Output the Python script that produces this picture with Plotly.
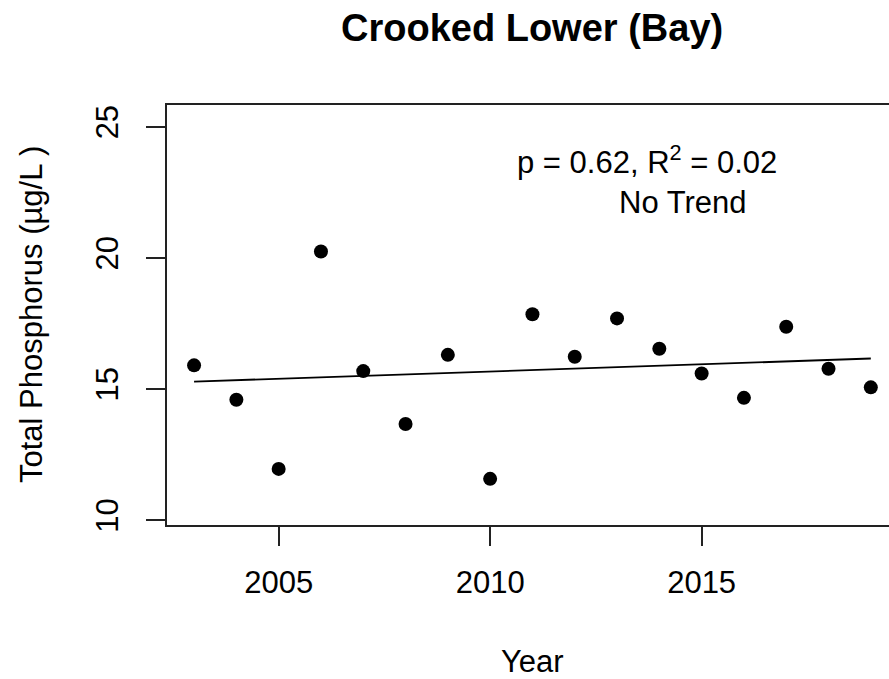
import plotly.graph_objects as go

years = [2003, 2004, 2005, 2006, 2007, 2008, 2009, 2010, 2011, 2012,
         2013, 2014, 2015, 2016, 2017, 2018, 2019]
tp = [15.90, 14.59, 11.95, 20.24, 15.68, 13.66, 16.30, 11.57, 17.85, 16.23,
      17.69, 16.53, 15.59, 14.66, 17.37, 15.77, 15.06]
trend_years = [2003, 2019]
trend_values = [15.28, 16.16]
x_ticks = [2005, 2010, 2015]
y_ticks = [10, 15, 20, 25]

FONT = "Liberation Sans, Arial, sans-serif"
W, H = 889, 679
L, R, T, B = 167, 0, 105, 154

fig = go.Figure()
fig.add_trace(go.Scatter(x=trend_years, y=trend_values, mode="lines",
                         line=dict(color="black", width=1.8), hoverinfo="skip"))
fig.add_trace(go.Scatter(x=years, y=tp, mode="markers",
                         marker=dict(color="black", size=14, line=dict(width=0))))

def px_x(p):
    return (p - L) / (W - L - R)

def px_y(p):
    return (H - B - p) / (H - T - B)

ann = [
    dict(text="<b>Crooked Lower (Bay)</b>", x=px_x(532), y=px_y(28), size=38),
    dict(text="p = 0.62, R<sup>2</sup> = 0.02", x=px_x(647), y=px_y(160), size=31),
    dict(text="No Trend", x=px_x(683), y=px_y(202), size=31),
    dict(text="Year", x=px_x(532), y=px_y(661), size=31),
]
for a in ann:
    fig.add_annotation(text=a["text"], x=a["x"], y=a["y"], xref="paper", yref="paper",
                       xanchor="center", yanchor="middle", showarrow=False,
                       font=dict(family=FONT, size=a["size"], color="black"))
fig.add_annotation(text="Total Phosphorus (µg/L )", x=px_x(31), y=px_y(315),
                   xref="paper", yref="paper", xanchor="center", yanchor="middle",
                   textangle=-90, showarrow=False,
                   font=dict(family=FONT, size=31, color="black"))

fig.update_layout(
    width=W, height=H, margin=dict(l=L, r=R, t=T, b=B, pad=0),
    paper_bgcolor="white", plot_bgcolor="white", showlegend=False,
    font=dict(family=FONT, size=31, color="black"),
    xaxis=dict(range=[2002.36, 2019.43], tickvals=x_ticks, ticks="outside",
               ticklen=19, tickwidth=2, tickcolor="#222", showline=True,
               linecolor="#222", linewidth=2, mirror=True, showgrid=False,
               zeroline=False, ticklabelstandoff=10,
               tickfont=dict(family=FONT, size=31, color="black")),
    yaxis=dict(range=[9.81, 25.83], tickvals=y_ticks, ticks="outside",
               ticklen=19, tickwidth=2, tickcolor="#222", showline=True,
               linecolor="#222", linewidth=2, mirror=False, showgrid=False,
               zeroline=False, tickangle=-90, ticklabelstandoff=16,
               tickfont=dict(family=FONT, size=31, color="black")),
)
fig.write_html("out.html")
